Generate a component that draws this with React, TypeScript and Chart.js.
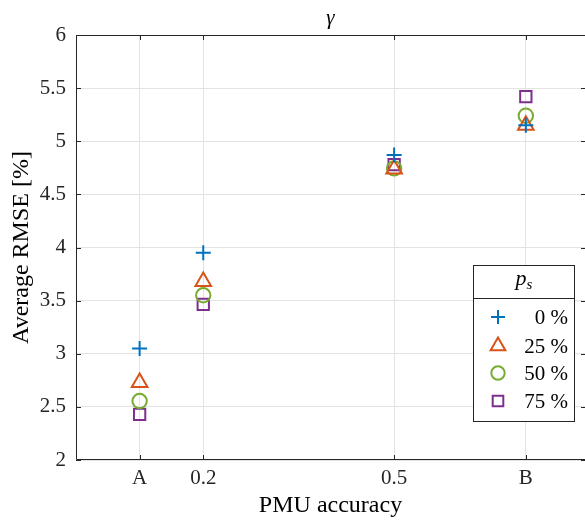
import React, { useEffect, useRef } from 'react';
import { Chart, registerables } from 'chart.js';

Chart.register(...registerables);

// ---- data ----
const xPositions = [0.1, 0.2, 0.5, 0.707];
const xTickLabels = ['A', '0.2', '0.5', 'B'];
const seriesLabels = ['0 %', '25 %', '50 %', '75 %'];
const ps0 = [3.05, 3.95, 4.87, 5.15];
const ps25 = [2.73, 3.68, 4.74, 5.15];
const ps50 = [2.555, 3.55, 4.745, 5.24];
const ps75 = [2.43, 3.465, 4.78, 5.42];
const yMin = 2;
const yMax = 6;
const yStep = 0.5;
const chartTitle = 'γ';

const colors = ['#0072BD', '#D95319', '#77AC30', '#7E2F8E'];
const styles = ['cross', 'triangle', 'circle', 'rect'];
const radii = [7.5, 9, 7.2, 8];
const seriesValues = [ps0, ps25, ps50, ps75];

const SERIF = '"Liberation Serif", "Times New Roman", serif';
const AX = '#262626';

function drawMarker(ctx: CanvasRenderingContext2D, style: string, x: number, y: number, r: number, color: string) {
  ctx.save();
  ctx.strokeStyle = color;
  ctx.lineWidth = 2;
  ctx.beginPath();
  if (style === 'cross') {
    ctx.moveTo(x, y - r);
    ctx.lineTo(x, y + r);
    ctx.moveTo(x - r, y);
    ctx.lineTo(x + r, y);
  } else if (style === 'triangle') {
    const a = (2 * Math.PI) / 3;
    ctx.moveTo(x, y - r);
    ctx.lineTo(x + Math.sin(a) * r, y - Math.cos(a) * r);
    ctx.lineTo(x + Math.sin(2 * a) * r, y - Math.cos(2 * a) * r);
    ctx.closePath();
  } else if (style === 'circle') {
    ctx.arc(x, y, r, 0, Math.PI * 2);
  } else {
    const s = Math.SQRT1_2 * r;
    ctx.rect(x - s, y - s, 2 * s, 2 * s);
  }
  ctx.stroke();
  ctx.restore();
}

const framePlugin = {
  id: 'frame',
  afterDatasetsDraw(chart: any) {
    const { ctx, chartArea } = chart;
    const { left, right, top, bottom } = chartArea;
    ctx.save();
    ctx.strokeStyle = AX;
    ctx.lineWidth = 1;
    ctx.beginPath();
    ctx.moveTo(right, top + 0.5);
    ctx.lineTo(left + 0.5, top + 0.5);
    ctx.lineTo(left + 0.5, bottom - 0.5);
    ctx.lineTo(right, bottom - 0.5);
    ctx.stroke();
    const ys = chart.scales.y;
    const xs = chart.scales.x;
    const tl = 5;
    ctx.beginPath();
    ys.ticks.forEach((t: any) => {
      const py = Math.round(ys.getPixelForValue(t.value)) + 0.5;
      ctx.moveTo(left, py);
      ctx.lineTo(left + tl, py);
      ctx.moveTo(right, py);
      ctx.lineTo(right - tl + 1, py);
    });
    xs.ticks.forEach((t: any) => {
      const px = Math.round(xs.getPixelForValue(t.value)) + 0.5;
      ctx.moveTo(px, bottom);
      ctx.lineTo(px, bottom - tl);
      ctx.moveTo(px, top);
      ctx.lineTo(px, top + tl);
    });
    ctx.stroke();
    // title
    ctx.fillStyle = '#000';
    ctx.font = `italic 21px ${SERIF}`;
    ctx.textAlign = 'center';
    ctx.textBaseline = 'middle';
    ctx.fillText(chartTitle, (left + right) / 2, 18);
    ctx.restore();
  },
  afterDraw(chart: any) {
    const { ctx } = chart;
    const bx = 473, by = 265, bw = 102, bh = 157, div = 298;
    ctx.save();
    ctx.fillStyle = '#ffffff';
    ctx.fillRect(bx, by, bw, bh);
    ctx.strokeStyle = AX;
    ctx.lineWidth = 1;
    ctx.strokeRect(bx + 0.5, by + 0.5, bw - 1, bh - 1);
    ctx.beginPath();
    ctx.moveTo(bx, div + 0.5);
    ctx.lineTo(bx + bw, div + 0.5);
    ctx.stroke();
    // title p_s
    ctx.fillStyle = '#000';
    ctx.textBaseline = 'alphabetic';
    ctx.font = `italic 22px ${SERIF}`;
    const pw = ctx.measureText('p').width;
    ctx.font = `italic 15px ${SERIF}`;
    const sw = ctx.measureText('s').width;
    const cx = bx + bw / 2;
    const startX = cx - (pw + sw) / 2;
    ctx.font = `italic 22px ${SERIF}`;
    ctx.textAlign = 'left';
    ctx.fillText('p', startX, 285);
    ctx.font = `italic 15px ${SERIF}`;
    ctx.fillText('s', startX + pw, 289);
    // entries
    const rowY = [317, 346, 373, 401];
    ctx.font = `21px ${SERIF}`;
    ctx.textAlign = 'right';
    ctx.textBaseline = 'middle';
    seriesLabels.forEach((lab, i) => {
      drawMarker(ctx, styles[i], 498, rowY[i], i === 1 ? 8.5 : radii[i] - 0.5, colors[i]);
      ctx.fillStyle = '#000';
      ctx.fillText(lab, 568, rowY[i] + 1);
    });
    ctx.restore();
  },
};

export default function App() {
  const canvasRef = useRef<HTMLCanvasElement | null>(null);

  useEffect(() => {
    if (!canvasRef.current) return;
    const chart = new Chart(canvasRef.current, {
      type: 'scatter',
      data: {
        datasets: seriesValues.map((vals, i) => ({
          label: seriesLabels[i],
          data: vals.map((v, j) => ({ x: xPositions[j], y: v })),
          pointStyle: styles[i] as any,
          pointRadius: radii[i],
          pointBorderWidth: 2,
          pointBorderColor: colors[i],
          pointBackgroundColor: 'rgba(0,0,0,0)',
          borderColor: colors[i],
          backgroundColor: 'rgba(0,0,0,0)',
          showLine: false,
        })),
      },
      options: {
        animation: false,
        responsive: false,
        devicePixelRatio: 1,
        layout: { autoPadding: false, padding: { top: 35, left: 0, right: 0, bottom: 0 } },
        plugins: {
          legend: { display: false },
          tooltip: { enabled: false },
          title: { display: false },
        },
        scales: {
          x: {
            type: 'linear',
            min: 0,
            max: 0.8,
            afterBuildTicks: (scale: any) => {
              scale.ticks = xPositions.map((v) => ({ value: v }));
            },
            afterFit: (scale: any) => {
              scale.height = 61;
              scale.paddingRight = 0;
              scale.paddingLeft = 0;
            },
            ticks: {
              autoSkip: false,
              maxRotation: 0,
              padding: 6,
              color: AX,
              font: { family: SERIF, size: 21 },
              callback: (value: any) => {
                const idx = xPositions.indexOf(Number(value));
                return idx >= 0 ? xTickLabels[idx] : '';
              },
            },
            grid: { color: '#e3e3e3', lineWidth: 1, drawTicks: false },
            border: { display: false },
            title: {
              display: true,
              text: 'PMU accuracy',
              color: '#000',
              font: { family: SERIF, size: 24 },
              padding: { top: 0, bottom: 1 },
            },
          },
          y: {
            type: 'linear',
            min: yMin,
            max: yMax,
            afterFit: (scale: any) => {
              scale.width = 76;
            },
            ticks: {
              stepSize: yStep,
              padding: 10,
              color: AX,
              font: { family: SERIF, size: 21 },
              callback: (value: any) => String(Number(value)),
            },
            grid: { color: '#e3e3e3', lineWidth: 1, drawTicks: false },
            border: { display: false },
            title: {
              display: true,
              text: 'Average RMSE [%]',
              color: '#000',
              font: { family: SERIF, size: 24 },
              padding: { top: 7, bottom: 0 },
            },
          },
        },
      },
      plugins: [framePlugin],
    });
    return () => chart.destroy();
  }, []);

  return (
    <div style={{ position: 'absolute', left: 0, top: 0, width: 585, height: 521, background: '#fff' }}>
      <canvas ref={canvasRef} width={585} height={521} style={{ width: 585, height: 521, display: 'block' }} />
    </div>
  );
}
